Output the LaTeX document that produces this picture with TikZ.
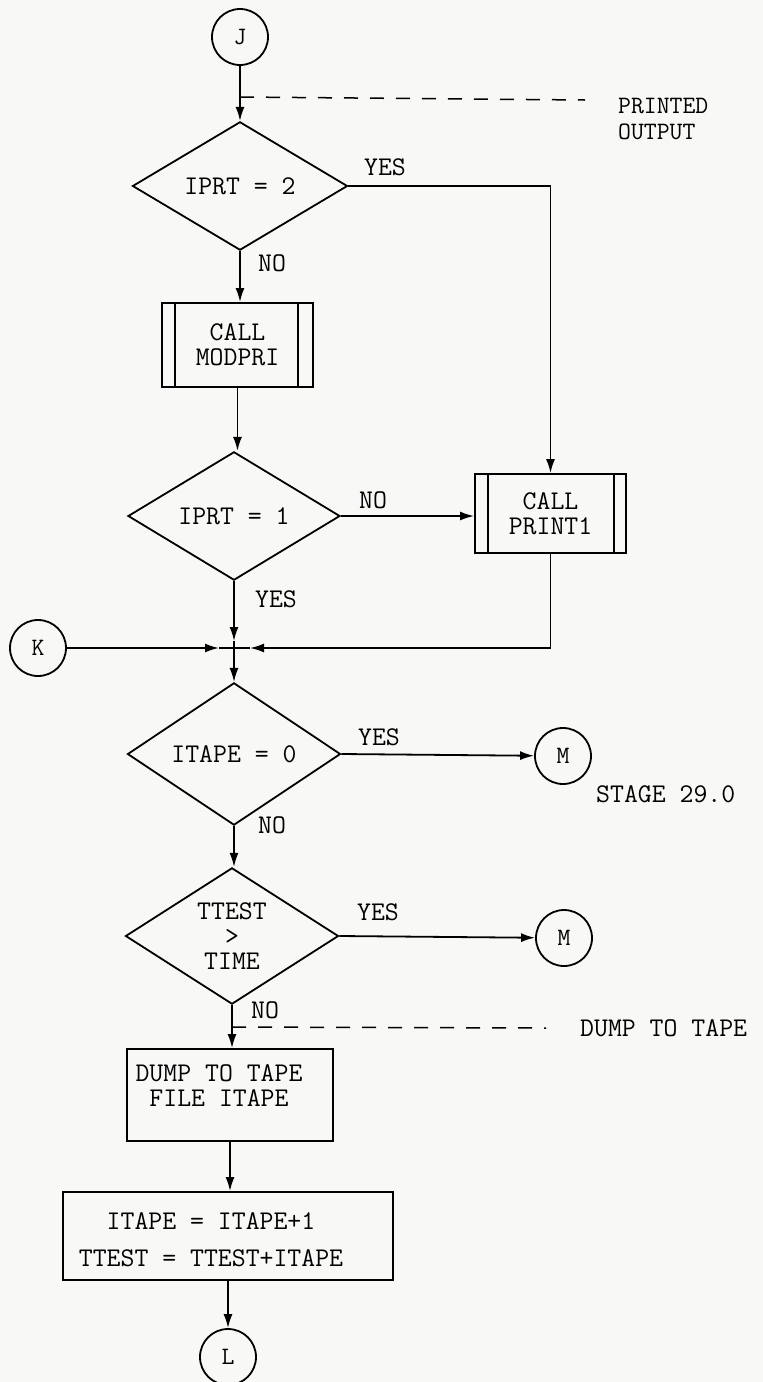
\documentclass[tikz,border=0pt]{standalone}
\usetikzlibrary{shapes.geometric,arrows.meta,calc}
\definecolor{bg}{RGB}{248,248,246}
\begin{document}
\begin{tikzpicture}[x=1pt,y=-1pt,
  every node/.style={font=\fontsize{27}{25}\selectfont\ttfamily},
  ln/.style={line width=1.8pt},
  arr/.style={ln,-{Latex[length=14pt,width=9pt]}},
  dec/.style={draw,diamond,line width=1.8pt,inner sep=0pt},
  conn/.style={draw,circle,line width=1.8pt,minimum size=56pt,inner sep=0pt,font=\fontsize{25}{25}\selectfont\ttfamily},
  proc/.style={draw,rectangle,line width=1.8pt,inner sep=0pt},
  lbl/.style={inner sep=0pt},
  dsh/.style={line width=1.5pt,dash pattern=on 14pt off 12pt}]
\fill[bg] (0,0) rectangle (763,1382);
\useasboundingbox (0,0) rectangle (763,1382);

% nodes
\node[conn] (J) at (240,37) {J};
\node[dec,minimum width=215pt,minimum height=123pt] (d1) at (240,186) {IPRT = 2};
\node[proc,minimum width=151pt,minimum height=84pt,align=center] (mod) at (237.5,345) {CALL\\MODPRI};
\node[dec,minimum width=212pt,minimum height=123pt] (d2) at (234,516) {IPRT = 1};
\node[proc,minimum width=151pt,minimum height=79pt,align=center] (p1) at (550.5,513.5) {CALL\\PRINT1};
\node[conn] (K) at (38,648) {K};
\coordinate (jn) at (234,648);
\node[dec,minimum width=213pt,minimum height=122pt] (d3) at (234,754) {ITAPE = 0};
\node[conn] (m1) at (563,756) {M};
\node[lbl,anchor=west] (stage) at (596,794) {STAGE 29.0};
\node[dec,minimum width=213pt,minimum height=122pt,align=center] (d4) at (232,936) {TTEST\\>\\TIME};
\node[conn] (m2) at (564,938) {M};
\node[proc,minimum width=206pt,minimum height=92pt] (dump) at (230,1095) {};
\node[lbl,align=center] (dtxt) at (219,1086) {DUMP TO TAPE\\FILE ITAPE};
\node[proc,minimum width=330pt,minimum height=88pt] (inc) at (228,1236) {};
\node[lbl,align=center,font=\fontsize{27}{37}\selectfont\ttfamily] (itxt) at (211,1240) {ITAPE = ITAPE+1\\TTEST = TTEST+ITAPE};
\node[conn] (L) at (228,1357) {L};

% subroutine bars
\draw[ln] ([xshift=14pt]mod.north west) -- ([xshift=14pt]mod.south west);
\draw[ln] ([xshift=-16pt]mod.north east) -- ([xshift=-16pt]mod.south east);
\draw[ln] ([xshift=14pt]p1.north west) -- ([xshift=14pt]p1.south west);
\draw[ln] ([xshift=-13pt]p1.north east) -- ([xshift=-13pt]p1.south east);

% annotations
\coordinate (pd0) at (240,97);
\coordinate (pd1) at (585,100);
\draw[dsh] (pd0) -- (pd1);
\node[lbl,anchor=west,font=\fontsize{25}{25}\selectfont\ttfamily] (pout1) at (618,106) {PRINTED};
\node[lbl,anchor=west,font=\fontsize{25}{25}\selectfont\ttfamily] (pout2) at (618,132) {OUTPUT};
\coordinate (dd0) at (232,1027);
\coordinate (dd1) at (546,1028);
\draw[dsh] (dd0) -- (dd1);
\node[lbl,anchor=west] (dtt) at (580,1028) {DUMP TO TAPE};

% labels
\node[lbl] (y1) at (385,167) {YES};
\node[lbl] (n1) at (272,263) {NO};
\node[lbl] (n2) at (373,500) {NO};
\node[lbl] (y2) at (276,599) {YES};
\node[lbl] (y3) at (379,737) {YES};
\node[lbl] (n3) at (272,825) {NO};
\node[lbl] (y4) at (378,912) {YES};
\node[lbl] (n4) at (265,1010) {NO};

% connectors
\draw[arr] (J) -- (d1.north);
\draw[arr] (d1.south) -- (d1.south |- mod.north);
\draw[arr] (d1.east) -| (p1.north);
\draw[arr] (mod.south) -- (mod.south |- d2.north);
\draw[arr] (d2.east) -- (d2.east -| p1.west);
\draw[arr] (d2.south) -- ($(jn)+(0,-7)$);
\draw[ln] ($(jn)+(0,-7)$) -- (jn);
\draw[arr] (K) -- ($(jn)+(-15,0)$);
\draw[ln] ($(jn)+(-15,0)$) -- (jn);
\draw[arr] (p1.south) |- ($(jn)+(16,0)$);
\draw[ln] ($(jn)+(16,0)$) -- (jn);
\draw[arr] (jn) -- (d3.north);
\draw[arr] (d3.east) -- (m1);
\draw[arr] (d3.south) -- (d3.south |- d4.north);
\draw[arr] (d4.east) -- (m2);
\draw[arr] (d4.south) -- (d4.south |- dump.north);
\draw[arr] (dump.south) -- (dump.south |- inc.north);
\draw[arr] (inc.south) -- (inc.south |- L.north);
\end{tikzpicture}
\end{document}
